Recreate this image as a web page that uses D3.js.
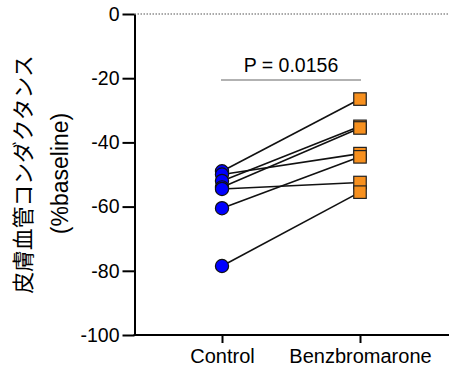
<!DOCTYPE html>
<html><head><meta charset="utf-8">
<script src="https://cdn.jsdelivr.net/npm/d3@7"></script>
<style>body{margin:0;background:#fff}svg{display:block}</style>
</head><body>
<svg id="c" width="449" height="369"></svg>
<script>
const categories = ["Control", "Benzbromarone"];
const controlValues = [-49, -50, -52, -54, -54.5, -60.5, -78.5];
const benzValues    = [-26.5, -43.5, -35, -35.5, -52.5, -44.5, -55.5];
const yTicks = [0, -20, -40, -60, -80, -100];
const pLabel = "P = 0.0156";
const yLabelLines = ["皮膚血管コンダクタンス", "(%baseline)"];

const svg = d3.select("#c");
const font = "Arial, 'Liberation Sans', Helvetica, sans-serif";
const x = d3.scalePoint().domain(categories).range([222, 360]);
const y = d3.scaleLinear().domain([-100, 0]).range([335, 14]);
const axisX0 = 134.5, axisX1 = 449;

// dotted zero line
svg.append("line").attr("x1", axisX0).attr("x2", axisX1)
  .attr("y1", y(0)).attr("y2", y(0))
  .attr("stroke", "#555").attr("stroke-width", 1.2).attr("stroke-dasharray", "1.5,1.5");

// y axis
const ya = svg.append("g").attr("transform", `translate(${axisX0},0)`)
  .call(d3.axisLeft(y).tickValues(yTicks).tickFormat(d => String(d))
    .tickSize(12).tickSizeOuter(0).tickPadding(3));
ya.select(".domain").attr("stroke-width", 2);
ya.selectAll(".tick line").attr("stroke-width", 2);
ya.selectAll("text").attr("font-family", font).attr("font-size", 19.5).attr("fill", "#000");

// x axis
const xa = svg.append("g").attr("transform", `translate(0,${y(-100)})`)
  .call(d3.axisBottom(x).tickSize(8).tickSizeOuter(0).tickPadding(6));
xa.select(".domain").remove();
xa.append("line").attr("x1", axisX0 - 1).attr("x2", axisX1).attr("stroke", "#000").attr("stroke-width", 2);
xa.selectAll(".tick line").attr("stroke-width", 2);
xa.selectAll("text").attr("font-family", font).attr("font-size", 20).attr("fill", "#000");

// y label
const yl = svg.append("g").attr("transform", `translate(0,${(y(0) + y(-100)) / 2}) rotate(-90)`);
yl.append("text").attr("x", 0).attr("y", 31).attr("text-anchor", "middle")
  .attr("font-family", "'Noto Sans CJK JP', sans-serif").attr("font-size", 21.8).text(yLabelLines[0]);
yl.append("text").attr("x", 1).attr("y", 68).attr("text-anchor", "middle")
  .attr("font-family", font).attr("font-size", 23).text(yLabelLines[1]);

// paired lines
const pairs = controlValues.map((c, i) => [c, benzValues[i]]);
svg.append("g").selectAll("line").data(pairs).join("line")
  .attr("x1", x(categories[0])).attr("x2", x(categories[1]))
  .attr("y1", d => y(d[0])).attr("y2", d => y(d[1]))
  .attr("stroke", "#111").attr("stroke-width", 1.6);

// control circles
svg.append("g").selectAll("circle").data(controlValues).join("circle")
  .attr("cx", x(categories[0])).attr("cy", d => y(d)).attr("r", 6.6)
  .attr("fill", "#0000ff").attr("stroke", "#111").attr("stroke-width", 1.2);

// benz squares
const s = 12.5;
svg.append("g").selectAll("rect").data(benzValues).join("rect")
  .attr("x", x(categories[1]) - s / 2).attr("y", d => y(d) - s / 2)
  .attr("width", s).attr("height", s)
  .attr("fill", "#f7901e").attr("stroke", "#222").attr("stroke-width", 1.2);

// significance bracket
svg.append("line").attr("x1", x(categories[0]) - 1).attr("x2", x(categories[1]) + 1)
  .attr("y1", 80).attr("y2", 80).attr("stroke", "#666").attr("stroke-width", 1.2);
svg.append("text").attr("x", (x(categories[0]) + x(categories[1])) / 2).attr("y", 72)
  .attr("text-anchor", "middle").attr("font-family", font).attr("font-size", 19.5).text(pLabel);
</script>
</body></html>
